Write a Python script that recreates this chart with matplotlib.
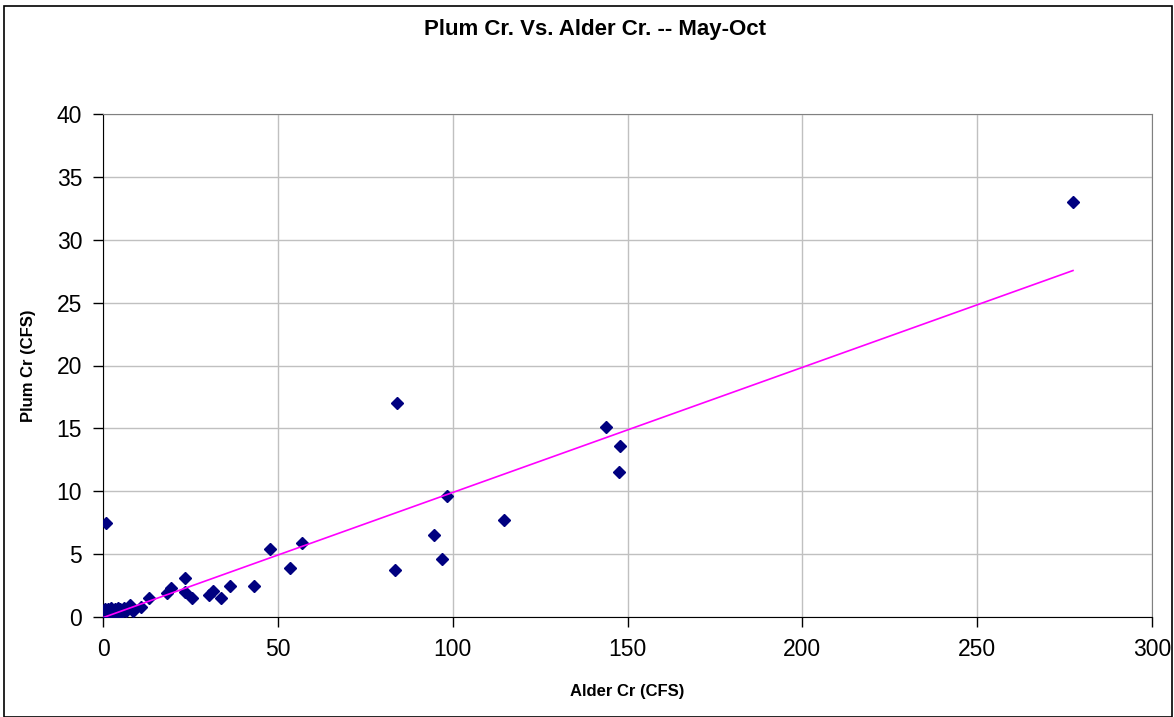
"""Plum Cr. vs Alder Cr. May-Oct flow scatter with linear trendline."""

import matplotlib

matplotlib.use("Agg")
import matplotlib.pyplot as plt
from matplotlib.patches import Rectangle
import numpy as np

plt.rcParams["font.family"] = ["Liberation Sans", "DejaVu Sans"]

# Alder Cr flow (CFS)
alder_cfs = [
    277.4, 0.9, 84.1, 143.8, 147.8, 147.6, 114.7, 98.4, 94.7, 96.9, 83.5,
    47.8, 56.9, 53.5, 43.2, 36.3, 33.7, 31.5, 30.3, 25.5, 23.4, 23.4, 19.4,
    18.3, 13.2, 10.9, 7.7, 8.6,
    0.1, 0.3, 0.5, 0.8, 1.0, 1.2, 1.5, 2.0, 2.2, 2.5, 3.0, 3.3, 3.8, 4.2,
    4.5, 5.0, 5.5, 6.0, 6.5, 0.2, 0.6, 1.8, 2.8, 0.4, 1.3, 3.5, 4.8, 7.0,
]
# Plum Cr flow (CFS), same order
plum_cfs = [
    33.0, 7.5, 17.0, 15.1, 13.6, 11.5, 7.7, 9.6, 6.5, 4.6, 3.7,
    5.4, 5.9, 3.9, 2.5, 2.5, 1.5, 2.1, 1.75, 1.5, 2.0, 3.1, 2.3,
    1.9, 1.5, 0.8, 0.95, 0.5,
    0.1, 0.2, 0.3, 0.4, 0.5, 0.3, 0.6, 0.4, 0.7, 0.3, 0.5, 0.6, 0.4, 0.7,
    0.5, 0.6, 0.4, 0.7, 0.5, 0.4, 0.6, 0.2, 0.2, 0.0, 0.1, 0.3, 0.3, 0.6,
]
# linear trendline
trend_slope = 0.0995
trend_intercept = -0.05

x_ticks = [0, 50, 100, 150, 200, 250, 300]
y_ticks = [0, 5, 10, 15, 20, 25, 30, 35, 40]


def main() -> None:
    fig = plt.figure(figsize=(11.74, 7.17), dpi=100)
    ax = fig.add_axes([103 / 1174, 1 - 617 / 717, (1152 - 103) / 1174, (617 - 114) / 717])

    ax.plot(alder_cfs, plum_cfs, linestyle="none", marker="D", markersize=6.5,
            color="#000080", zorder=3)
    xs = np.array([min(alder_cfs), max(alder_cfs)])
    ax.plot(xs, trend_slope * xs + trend_intercept, color="#FF00FF", lw=1.2, zorder=4)

    ax.set_xlim(x_ticks[0], x_ticks[-1])
    ax.set_ylim(y_ticks[0], y_ticks[-1])
    ax.set_xticks(x_ticks)
    ax.set_yticks(y_ticks)
    ax.grid(True, color="#c0c0c0", lw=1)
    ax.set_axisbelow(True)
    ax.tick_params(direction="out", length=7, width=1, labelsize=16.5, pad=8)
    for side in ("top", "right"):
        ax.spines[side].set_color("#808080")
    for side in ("left", "bottom"):
        ax.spines[side].set_color("black")

    ax.set_xlabel("Alder Cr (CFS)", fontsize=12, fontweight="bold", labelpad=17)
    ax.set_ylabel("Plum Cr (CFS)", fontsize=12, fontweight="bold", labelpad=15)
    fig.text(595 / 1174, 1 - 30 / 717, "Plum Cr. Vs. Alder Cr. -- May-Oct",
             ha="center", va="center", fontsize=16, fontweight="bold")

    fig.patches.append(Rectangle((4 / 1174, 0.0), 1 - 6 / 1174, 1 - 6 / 717,
                                 transform=fig.transFigure, fill=False,
                                 edgecolor="black", lw=1.2))
    fig.savefig("out.png", dpi=100)
    plt.close(fig)


if __name__ == "__main__":
    main()
